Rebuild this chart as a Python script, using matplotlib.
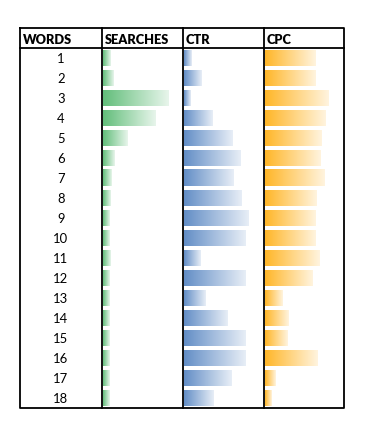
import numpy as np
import matplotlib
matplotlib.use("Agg")
import matplotlib.pyplot as plt
from matplotlib.colors import to_rgb

words = list(range(1, 19))
headers = ["WORDS", "SEARCHES", "CTR", "CPC"]
searches = [8, 11, 66, 53, 25, 12, 9, 8, 7, 7, 8, 7, 7, 7, 7, 7, 7, 7]
ctr = [8, 18, 7, 29, 49, 57, 50, 58, 65, 62, 17, 62, 22, 44, 62, 62, 48, 30]
cpc = [51, 51, 64, 61, 57, 56, 60, 52, 51, 51, 55, 48, 18, 24, 23, 53, 11, 7]

W, H = 366, 439
fig = plt.figure(figsize=(W / 100, H / 100), dpi=100)
ax = fig.add_axes([0, 0, 1, 1])
ax.set_xlim(0, W)
ax.set_ylim(H, 0)
ax.axis("off")

left, right, top = 20, 344, 29
col_x = [20, 101.5, 182.5, 263.5, 344]
row_h = 20
n = len(words)
bottom = top + row_h * (n + 1)

font = "Lato"

# headers
for i, h in enumerate(headers):
    ax.text(col_x[i] + 3, top + row_h / 2 + 1, h, ha="left", va="center",
            fontsize=9.2, fontweight="heavy", family=font, color="black")

# word numbers
for r, w in enumerate(words):
    yc = top + row_h * (r + 1) + row_h / 2
    ax.text((col_x[0] + col_x[1]) / 2, yc, str(w), ha="center", va="center",
            fontsize=9.4, family=font, color="black")

def gradient_bar(x0, length, yc, color):
    c = np.array(to_rgb(color))
    t = np.linspace(0, 1, 128)
    white = np.array([1, 1, 1])
    end = c + (white - c) * 0.85
    img = c[None, :] * (1 - t[:, None]) + end[None, :] * t[:, None]
    img = img[None, :, :]
    ax.imshow(img, extent=(x0, x0 + length, yc + 8, yc - 8), aspect="auto",
              interpolation="bilinear", zorder=1)

series = [(searches, "#63BE7B", 66), (ctr, "#638EC6", 65), (cpc, "#FFB628", 64)]
for ci, (vals, color, maxlen) in enumerate(series):
    vmax = max(vals)
    x0 = col_x[ci + 1] + 1
    for r, v in enumerate(vals):
        yc = top + row_h * (r + 1) + row_h / 2
        gradient_bar(x0, v / vmax * maxlen, yc, color)

# grid lines
lw = 1.3
ax.plot([left, right, right, left, left], [top, top, bottom, bottom, top],
        color="black", lw=lw, zorder=3, solid_capstyle="projecting")
for x in col_x[1:-1]:
    ax.plot([x, x], [top, bottom], color="black", lw=lw, zorder=3)
ax.plot([left, right], [top + row_h, top + row_h], color="black", lw=lw, zorder=3)

ax.set_xlim(0, W)
ax.set_ylim(H, 0)
fig.savefig("out.png", dpi=100, facecolor="white")
